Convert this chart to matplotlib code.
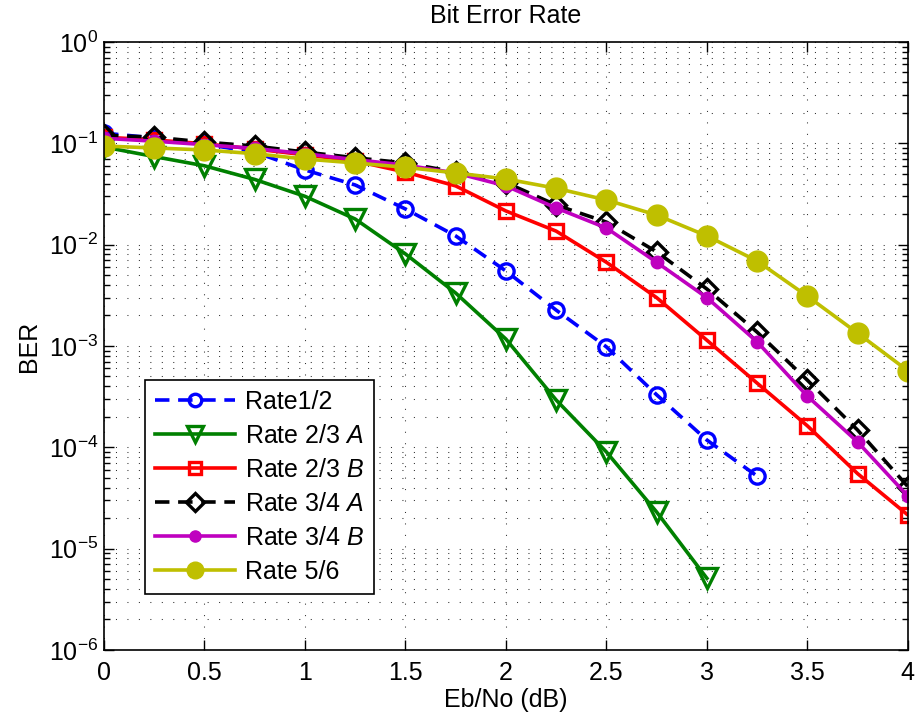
import numpy as np
import matplotlib
matplotlib.use("Agg")
import matplotlib.pyplot as plt
from matplotlib.ticker import LogLocator, FixedLocator, NullFormatter

plt.rcParams['font.family'] = ['Liberation Sans', 'DejaVu Sans']
plt.rcParams['mathtext.fontset'] = 'custom'
plt.rcParams['mathtext.rm'] = 'Liberation Sans'
plt.rcParams['mathtext.it'] = 'Liberation Sans:italic'

# --- data ---
ebno = np.arange(0, 4.01, 0.25)

ber_r12 = [0.126, 0.113, 0.098, 0.082, 0.0546, 0.0388, 0.0225, 0.0122,
           0.0055, 0.00226, 0.00098, 3.3e-4, 1.18e-4, 5.2e-5]
ber_r23a = [0.092, 0.074, 0.060, 0.044, 0.030, 0.0179, 0.0081, 0.00333,
            0.00117, 2.93e-4, 9.0e-5, 2.3e-5, 5.1e-6]
ber_r23b = [0.115, 0.108, 0.099, 0.088, 0.077, 0.067, 0.052, 0.038,
            0.0215, 0.0136, 0.0067, 0.0030, 0.00114, 4.3e-4, 1.63e-4,
            5.5e-5, 2.15e-5]
ber_r34a = [0.120, 0.115, 0.103, 0.094, 0.082, 0.072, 0.064, 0.052,
            0.041, 0.0246, 0.0167, 0.0085, 0.00365, 0.00137, 4.6e-4,
            1.48e-4, 4.1e-5]
ber_r34b = [0.112, 0.105, 0.097, 0.089, 0.079, 0.069, 0.061, 0.051,
            0.038, 0.023, 0.0146, 0.0067, 0.0030, 0.0011, 3.2e-4,
            1.13e-4, 3.3e-5]
ber_r56 = [0.094, 0.090, 0.086, 0.079, 0.070, 0.064, 0.058, 0.051,
           0.0445, 0.036, 0.0276, 0.0196, 0.0122, 0.0069, 0.0031,
           0.00134, 5.7e-4]

labels = ['Rate1/2', r'Rate 2/3 $\mathit{A}$', r'Rate 2/3 $\mathit{B}$',
          r'Rate 3/4 $\mathit{A}$', r'Rate 3/4 $\mathit{B}$', 'Rate 5/6']

FS = 18

fig = plt.figure(figsize=(9.17, 7.19), dpi=100)
ax = fig.add_axes([0.1134, 0.096, 0.8766, 0.8456])

lw = 2.6
mew = 2.4
dash = (4.0, 2.4)

ax.semilogy(ebno[:len(ber_r12)], ber_r12, color='#0000ff', ls='--', dashes=dash,
            lw=lw, marker='o', ms=11, mfc='none', mew=mew, label=labels[0])
ax.semilogy(ebno[:len(ber_r23a)], ber_r23a, color='#008000', lw=lw,
            marker='v', ms=14, mfc='none', mew=mew, label=labels[1])
ax.semilogy(ebno[:len(ber_r23b)], ber_r23b, color='#ff0000', lw=lw,
            marker='s', ms=10, mfc='none', mew=mew, label=labels[2])
ax.semilogy(ebno[:len(ber_r34a)], ber_r34a, color='black', ls='--', dashes=dash,
            lw=lw, marker='D', ms=10, mfc='none', mew=mew, label=labels[3])
ax.semilogy(ebno[:len(ber_r34b)], ber_r34b, color='#bf00bf', lw=lw,
            marker='o', ms=9, label=labels[4])
ax.semilogy(ebno[:len(ber_r56)], ber_r56, color='#bfbf00', lw=lw,
            marker='o', ms=15, label=labels[5])

ax.set_xlim(0, 4)
ax.set_ylim(1e-6, 1)
ax.xaxis.set_major_locator(FixedLocator(np.arange(0, 4.01, 0.5)))
ax.set_xticklabels(['0', '0.5', '1', '1.5', '2', '2.5', '3', '3.5', '4'])
ax.yaxis.set_major_locator(LogLocator(base=10, numticks=10))
ax.yaxis.set_minor_locator(LogLocator(base=10, subs=np.arange(2, 10), numticks=20))
ax.yaxis.set_minor_formatter(NullFormatter())

# matlab style sparse dotted grid
grid_style = dict(ls=(0, (1, 10)), color='#303030', lw=0.75)
ax.grid(True, which='major', **grid_style)
ax.grid(True, which='minor', axis='y', **grid_style)

ax.tick_params(which='both', direction='in', top=True, right=True,
               labelsize=FS, width=1)
ax.tick_params(which='major', length=7)
ax.tick_params(which='minor', length=4)
ax.tick_params(axis='x', pad=8)
ax.tick_params(axis='y', pad=4)
for s in ax.spines.values():
    s.set_linewidth(1.2)

ax.set_title('Bit Error Rate', fontsize=FS, pad=14)
ax.set_xlabel('Eb/No (dB)', fontsize=FS, labelpad=2)
ax.set_ylabel('BER', fontsize=FS, labelpad=6)

leg = ax.legend(loc='upper left', bbox_to_anchor=(0.051, 0.444), fontsize=FS,
                handlelength=3.2, handletextpad=0.4, fancybox=False,
                framealpha=1, edgecolor='black', borderpad=0.4,
                labelspacing=0.4, borderaxespad=0)
leg.get_frame().set_linewidth(1.2)
for h, ms in zip(leg.legend_handles, [9, 11, 9, 9, 8, 12]):
    h.set_markersize(ms)

fig.savefig('out.png', dpi=100)
